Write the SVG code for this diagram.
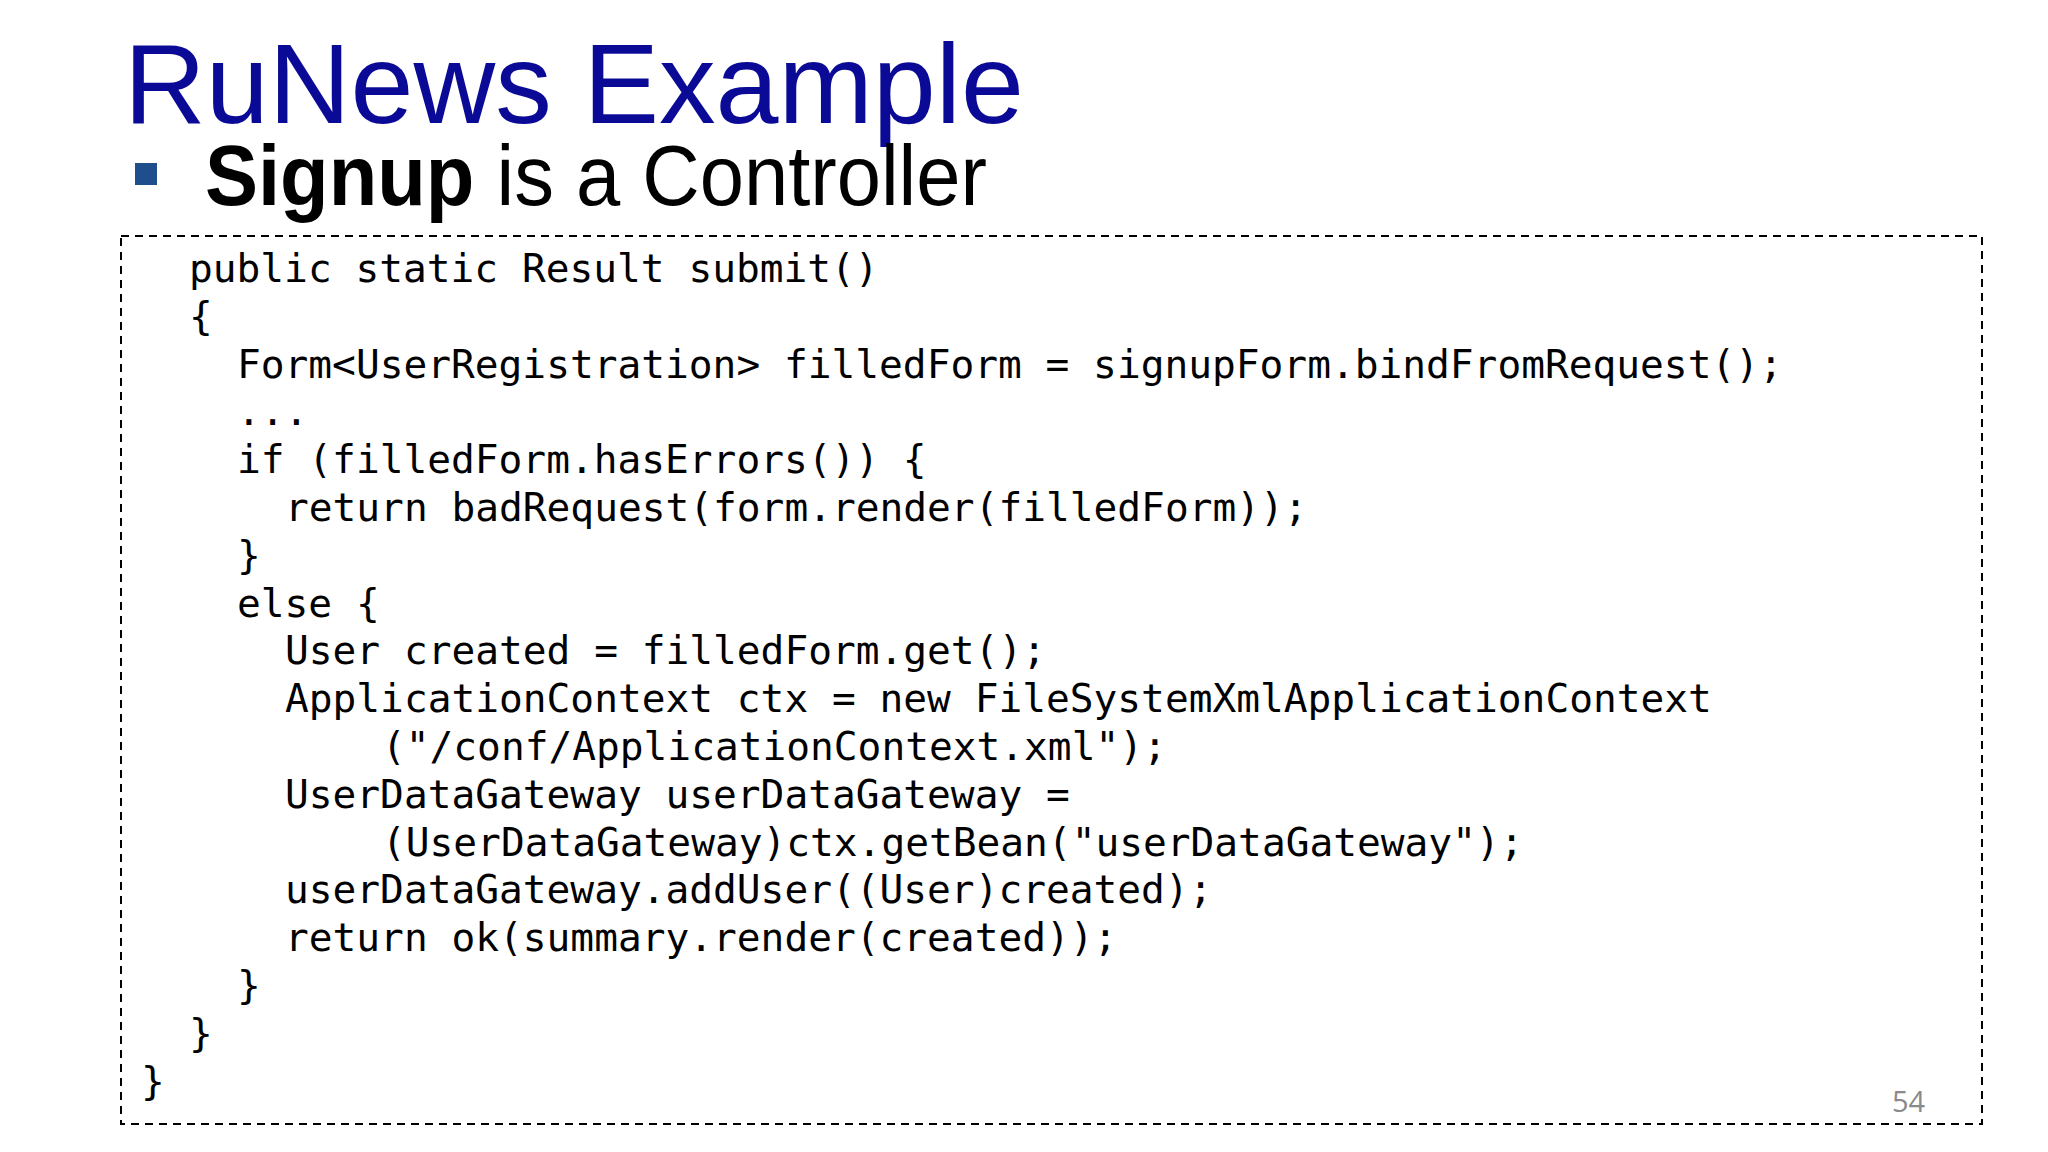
<svg xmlns="http://www.w3.org/2000/svg" width="2048" height="1152" viewBox="0 0 2048 1152">
<style>
.code{font-family:"DejaVu Sans Mono","Liberation Mono",monospace;font-size:39.5px;fill:#000}
</style>
<rect width="2048" height="1152" fill="#fff"/>
<g id="title"><text x="124" y="123" font-family="Liberation Sans, Arial, sans-serif" font-size="113" fill="#0a0a96" textLength="900" lengthAdjust="spacingAndGlyphs">RuNews Example</text></g>
<g id="subtitle">
<rect x="135" y="163" width="22" height="22" fill="#1f4e8c"/>
<text x="205" y="205" font-family="Liberation Sans, Arial, sans-serif" font-size="85" fill="#000" textLength="782" lengthAdjust="spacingAndGlyphs"><tspan font-weight="bold">Signup</tspan> is a Controller</text>
</g>
<g id="codebox">
<rect x="121" y="236" width="1861" height="888" fill="none" stroke="#000" stroke-width="2" stroke-dasharray="8,6"/>
<g class="code">
<text x="189" y="282">public static Result submit()</text>
<text x="189" y="330">{</text>
<text x="237" y="378">Form&lt;UserRegistration&gt; filledForm = signupForm.bindFromRequest();</text>
<text x="237" y="425">...</text>
<text x="237" y="473">if (filledForm.hasErrors()) {</text>
<text x="285" y="521">return badRequest(form.render(filledForm));</text>
<text x="237" y="569">}</text>
<text x="237" y="617">else {</text>
<text x="285" y="664">User created = filledForm.get();</text>
<text x="285" y="712">ApplicationContext ctx = new FileSystemXmlApplicationContext</text>
<text x="382" y="760">("/conf/ApplicationContext.xml");</text>
<text x="285" y="808">UserDataGateway userDataGateway =</text>
<text x="382" y="856">(UserDataGateway)ctx.getBean("userDataGateway");</text>
<text x="285" y="903">userDataGateway.addUser((User)created);</text>
<text x="285" y="951">return ok(summary.render(created));</text>
<text x="237" y="999">}</text>
<text x="189" y="1047">}</text>
<text x="141" y="1095">}</text>
</g>
<text x="1892" y="1112" font-family="Open Sans, Liberation Sans, sans-serif" font-size="29" fill="#8a8a8a">54</text>
</g>
</svg>
